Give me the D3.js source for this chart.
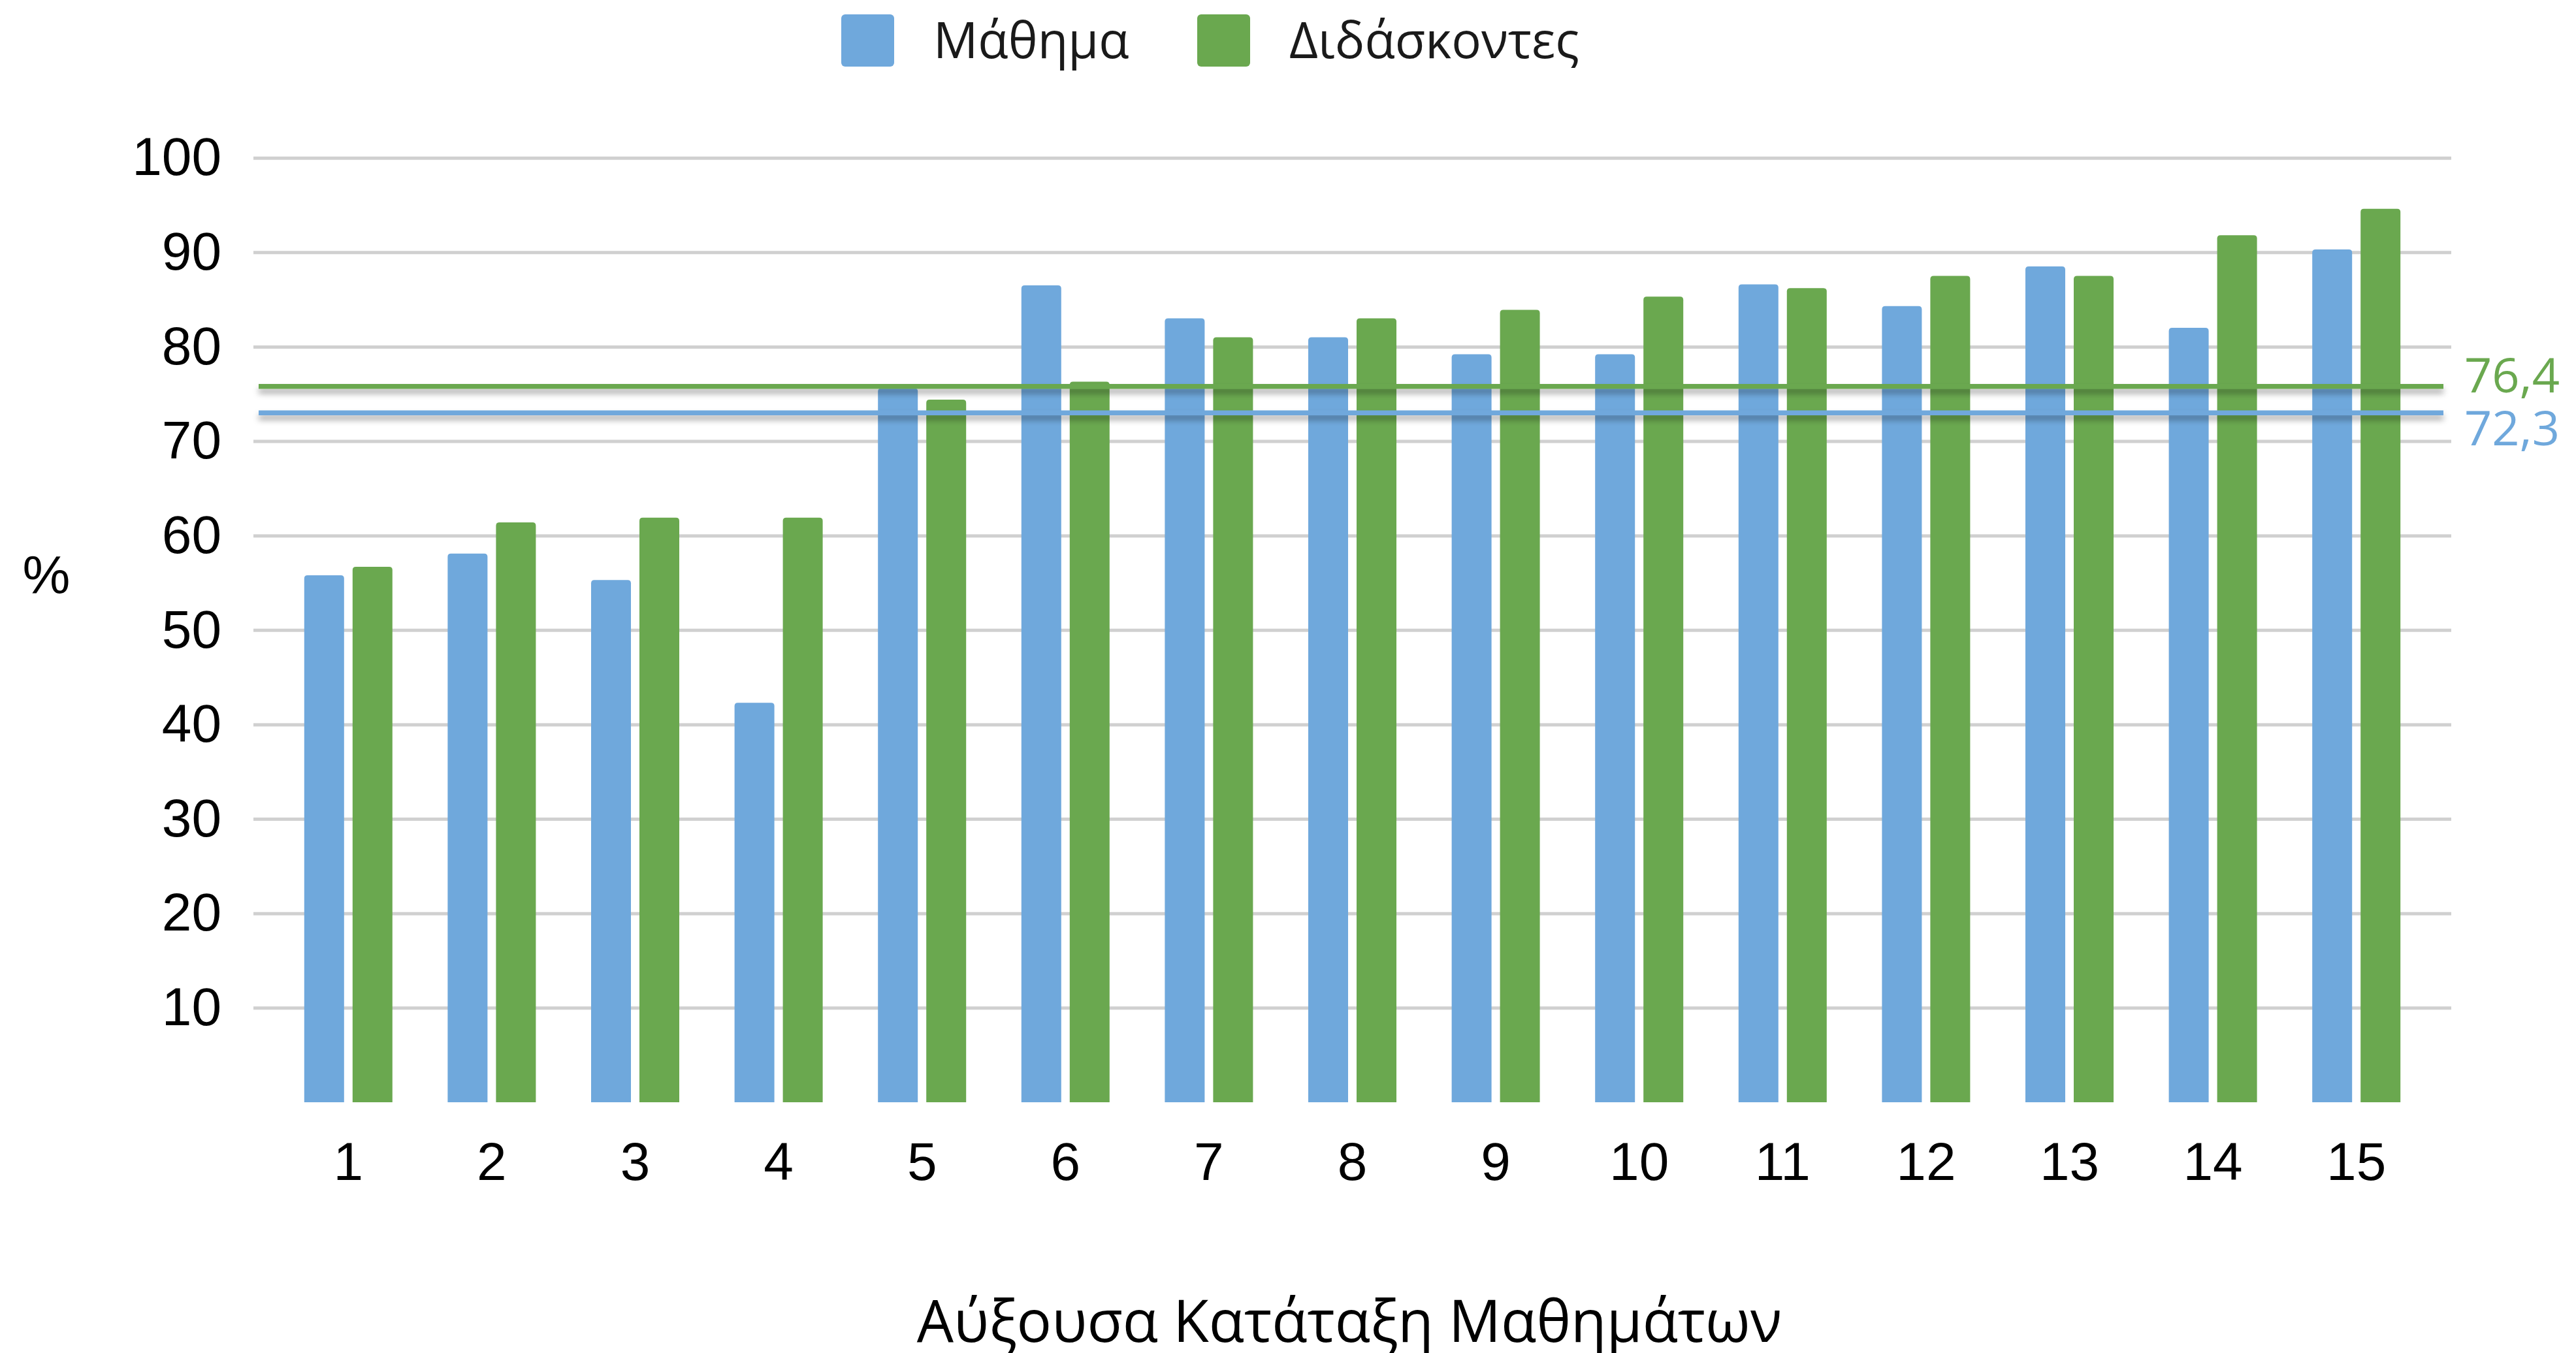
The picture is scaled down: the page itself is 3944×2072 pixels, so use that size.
<!DOCTYPE html>
<html>
<head>
<meta charset="utf-8">
<script src="https://cdn.jsdelivr.net/npm/d3@7"></script>
<style>
  body { margin: 0; background: #fff; }
  svg { display: block; }
</style>
</head>
<body>
<div id="chart"></div>
<script>
// data
var categories = ["1","2","3","4","5","6","7","8","9","10","11","12","13","14","15"];
var seriesNames = ["Μάθημα", "Διδάσκοντες"];
var mathima = [55.8, 58.1, 55.3, 42.3, 75.6, 86.5, 83.0, 81.0, 79.2, 79.2, 86.6, 84.3, 88.5, 82.0, 90.3];
var didaskontes = [56.7, 61.4, 61.9, 61.9, 74.4, 76.3, 81.0, 83.0, 83.9, 85.3, 86.2, 87.5, 87.5, 91.8, 94.6];
var meanLevels = [73.0, 75.8];          // where the two average lines sit
var meanLabels = ["72,3", "76,4"];
var yTicks = [10, 20, 30, 40, 50, 60, 70, 80, 90, 100];
var colors = ["#6fa8dc", "#6aa84f"];

var width = 3944, height = 2072;
var plotLeft = 388, plotRight = 3753, plotTop = 241.7, plotBottom = 1688;

var svg = d3.select("#chart").append("svg")
    .attr("width", width).attr("height", height);

var defs = svg.append("defs");
var f = defs.append("filter").attr("id", "shadow")
    .attr("x", "-5%").attr("y", "-400%").attr("width", "110%").attr("height", "900%")
    .attr("filterUnits", "userSpaceOnUse")
    .attr("x", 300).attr("y", 500).attr("width", 3600).attr("height", 250);
f.append("feDropShadow").attr("dx", 0).attr("dy", 7).attr("stdDeviation", 5)
    .attr("flood-color", "#000").attr("flood-opacity", 0.35);

var y = d3.scaleLinear().domain([0, 100]).range([plotBottom, plotTop]);
var x = d3.scaleBand().domain(categories).range([423.5, 3717.5]).padding(0);
var xs = d3.scaleBand().domain(seriesNames).range([-67.5, 67.5]).paddingInner(0.1757);

// y axis + grid
var yAxis = svg.append("g")
    .attr("transform", "translate(" + plotLeft + ",0)")
    .call(d3.axisLeft(y).tickValues(yTicks).tickSize(-(plotRight - plotLeft)).tickPadding(49));
yAxis.select(".domain").remove();
yAxis.selectAll(".tick line").attr("stroke", "#d0d0d0").attr("stroke-width", 5);
yAxis.selectAll(".tick text")
    .style("font-family", "'Liberation Sans', Arial, sans-serif")
    .style("font-size", "82px").attr("fill", "#000");

// x axis labels
var xAxis = svg.append("g")
    .attr("transform", "translate(0," + plotBottom + ")")
    .call(d3.axisBottom(x).tickSize(0).tickPadding(61));
xAxis.select(".domain").remove();
xAxis.selectAll(".tick text")
    .style("font-family", "'Liberation Sans', Arial, sans-serif")
    .style("font-size", "82px").attr("fill", "#000");

// bars with rounded tops
function barPath(x0, w, y0, y1, r) {
  return "M" + x0 + "," + y1 +
    "V" + (y0 + r) +
    "Q" + x0 + "," + y0 + " " + (x0 + r) + "," + y0 +
    "H" + (x0 + w - r) +
    "Q" + (x0 + w) + "," + y0 + " " + (x0 + w) + "," + (y0 + r) +
    "V" + y1 + "Z";
}

var seriesData = [mathima, didaskontes];
seriesData.forEach(function(vals, si) {
  svg.append("g").selectAll("path")
    .data(vals).enter().append("path")
      .attr("d", function(d, i) {
        var bx = x(categories[i]) + x.bandwidth() / 2 + xs(seriesNames[si]);
        return barPath(bx, xs.bandwidth(), y(d), y(0), 5);
      })
      .attr("fill", colors[si]);
});

// average lines
var meanG = svg.append("g");
meanG.selectAll("line")
  .data(meanLevels).enter().append("line")
    .attr("x1", 396).attr("x2", 3741)
    .attr("y1", function(d) { return y(d); })
    .attr("y2", function(d) { return y(d); })
    .attr("stroke", function(d, i) { return colors[i]; })
    .attr("stroke-width", 7.5)
    .attr("filter", "url(#shadow)");

svg.append("g").selectAll("text")
  .data(meanLabels).enter().append("text")
    .attr("x", 3773)
    .attr("y", function(d, i) { return i === 0 ? 682 : 601; })
    .attr("fill", function(d, i) { return colors[i]; })
    .style("font-family", "'Open Sans', sans-serif")
    .style("font-size", "74px")
    .text(function(d) { return d; });

// legend
var legendX = [1288, 1833];
var legend = svg.append("g");
seriesNames.forEach(function(name, i) {
  legend.append("rect")
    .attr("x", legendX[i]).attr("y", 22)
    .attr("width", 81).attr("height", 80)
    .attr("rx", 6).attr("fill", colors[i]);
  legend.append("text")
    .attr("x", legendX[i] + 141).attr("y", 89)
    .attr("fill", "#1a1a1a")
    .style("font-family", "'Open Sans', sans-serif")
    .style("font-size", "76px")
    .text(name);
});

// axis titles
svg.append("text")
    .attr("x", 2066).attr("y", 2055)
    .attr("text-anchor", "middle")
    .style("font-family", "'Open Sans', sans-serif")
    .style("font-size", "89px")
    .text("Αύξουσα Κατάταξη Μαθημάτων");

svg.append("text")
    .attr("x", 71).attr("y", 909)
    .attr("text-anchor", "middle")
    .style("font-family", "'Liberation Sans', Arial, sans-serif")
    .style("font-size", "82px")
    .text("%");
</script>
</body>
</html>
